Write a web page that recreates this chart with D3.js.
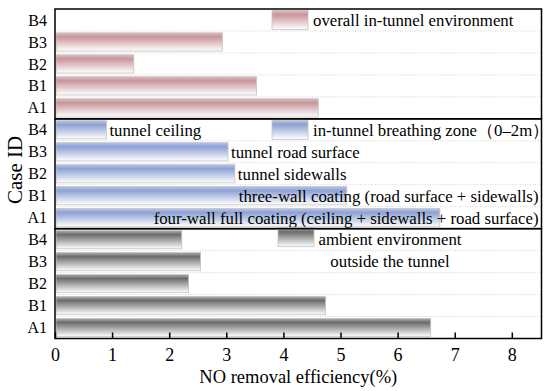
<!DOCTYPE html>
<html>
<head>
<meta charset="utf-8">
<script src="https://cdn.jsdelivr.net/npm/d3@7"></script>
<style>
  body { margin: 0; background: #fff; }
  text { font-family: "Liberation Serif", "Times New Roman", serif; fill: #000; }
</style>
</head>
<body>
<div id="chart"></div>
<script>
// rows from top to bottom inside each panel
var caseIds = ["B4", "B3", "B2", "B1", "A1"];
var panels = ["overall", "breathing", "ambient"];

// NO removal efficiency (%), per panel, in caseIds order (null = no bar)
var overallValues   = [null, 2.93, 1.38, 3.53, 4.61];
var breathingValues = [0.90, 3.03, 3.15, 5.11, 6.74];
var ambientValues   = [2.22, 2.55, 2.34, 4.74, 6.58];

var xTicks = [0, 1, 2, 3, 4, 5, 6, 7, 8];

// annotations in the middle panel, keyed by row
var breathingNotes = [
    { id: "B4", text: "tunnel ceiling" },
    { id: "B3", text: "tunnel road surface" },
    { id: "B2", text: "tunnel sidewalls" },
    { id: "B1", text: "three-wall coating (road surface + sidewalls)" },
    { id: "A1", text: "four-wall full coating (ceiling + sidewalls + road surface)" }
];
var legendLabels = {
    overall: ["overall in-tunnel environment"],
    breathing: ["in-tunnel breathing zone\uFF080\u20132m\uFF09"],
    ambient: ["ambient environment", "outside the tunnel"]
};

var width = 550, height = 391;
var margin = { left: 55, right: 8.5, top: 9, bottom: 52.5 };
var noteSize = "16.8px";

var svg = d3.select("#chart").append("svg")
    .attr("width", width)
    .attr("height", height);

var defs = svg.append("defs");
var colors = {
    overall:   ["#dcbcbf", "#c9959b"],
    breathing: ["#b8c5e6", "#8da1d3"],
    ambient:   ["#b0b0b0", "#6c6c6c"]
};
panels.forEach(function (p) {
    var g = defs.append("linearGradient")
        .attr("id", "grad-" + p)
        .attr("x1", 0).attr("y1", 0).attr("x2", 0).attr("y2", 1);
    g.append("stop").attr("offset", "0%").attr("stop-color", colors[p][0]);
    g.append("stop").attr("offset", "22%").attr("stop-color", colors[p][1]);
    g.append("stop").attr("offset", "100%").attr("stop-color", "#ffffff");
});

var x = d3.scaleLinear()
    .domain([0, 8.52])
    .range([margin.left, width - margin.right]);

var panelScale = d3.scaleBand()
    .domain(panels)
    .range([margin.top, height - margin.bottom]);

var y = d3.scaleBand()
    .domain(caseIds)
    .range([0, panelScale.bandwidth()])
    .paddingInner(0.17)
    .paddingOuter(0.085);

var valuesByPanel = {
    overall: overallValues,
    breathing: breathingValues,
    ambient: ambientValues
};

panels.forEach(function (p) {
    var top = panelScale(p);
    var g = svg.append("g")
        .attr("transform", "translate(0," + top + ")");

    // dotted separators between rows
    var step = panelScale.bandwidth() / caseIds.length;
    g.selectAll("line.grid")
        .data(caseIds.slice(1))
        .enter().append("line")
        .attr("class", "grid")
        .attr("x1", x.range()[0]).attr("x2", x.range()[1])
        .attr("y1", function (d, i) { return step * (i + 1); })
        .attr("y2", function (d, i) { return step * (i + 1); })
        .attr("stroke", "#c8c8c8")
        .attr("stroke-width", 0.8)
        .attr("stroke-dasharray", "1,1.5");

    var rows = caseIds.map(function (id, i) {
        return { id: id, value: valuesByPanel[p][i] };
    }).filter(function (d) { return d.value !== null; });

    g.selectAll("rect.bar")
        .data(rows)
        .enter().append("rect")
        .attr("class", "bar")
        .attr("x", x(0) + 1)
        .attr("y", function (d) { return y(d.id); })
        .attr("width", function (d) { return x(d.value) - x(0) - 1; })
        .attr("height", y.bandwidth())
        .attr("fill", "url(#grad-" + p + ")")
        .attr("stroke", "#c4c4c4")
        .attr("stroke-width", 0.8);

    // category labels
    g.selectAll("text.cat")
        .data(caseIds)
        .enter().append("text")
        .attr("class", "cat")
        .attr("x", x(0) - 8)
        .attr("y", function (d) { return y(d) + y.bandwidth() / 2; })
        .attr("dy", "0.35em")
        .attr("text-anchor", "end")
        .style("font-size", "16px")
        .text(function (d) { return d; });

    // legend swatch + text
    var lx = p === "ambient" ? 278 : 272;
    var ly = p === "ambient" ? -1 : 1.5;
    g.append("rect")
        .attr("x", lx).attr("y", ly)
        .attr("width", 36).attr("height", 19)
        .attr("fill", "url(#grad-" + p + ")")
        .attr("stroke", "#c4c4c4")
        .attr("stroke-width", 0.8);

    var lines = legendLabels[p];
    if (lines.length === 1) {
        g.append("text")
            .attr("x", lx + 41)
            .attr("y", ly + 10)
            .attr("dy", "0.35em")
            .style("font-size", noteSize)
            .text(lines[0]);
    } else {
        g.selectAll("text.leg")
            .data(lines)
            .enter().append("text")
            .attr("class", "leg")
            .attr("x", 390)
            .attr("y", function (d, i) { return ly + 11 + i * 22; })
            .attr("dy", "0.35em")
            .attr("text-anchor", "middle")
            .style("font-size", noteSize)
            .text(function (d) { return d; });
    }

    if (p === "breathing") {
        g.selectAll("text.note")
            .data(breathingNotes)
            .enter().append("text")
            .attr("class", "note")
            .attr("x", function (d) {
                var v = breathingValues[caseIds.indexOf(d.id)];
                return v < 4 ? x(v) + 3 : x.range()[1] - 3;
            })
            .attr("y", function (d) { return y(d.id) + y.bandwidth() / 2; })
            .attr("dy", "0.35em")
            .attr("text-anchor", function (d) {
                return breathingValues[caseIds.indexOf(d.id)] < 4 ? "start" : "end";
            })
            .style("font-size", noteSize)
            .text(function (d) { return d.text; });
    }

    // panel frame
    g.append("rect")
        .attr("x", x.range()[0])
        .attr("y", 0)
        .attr("width", x.range()[1] - x.range()[0])
        .attr("height", panelScale.bandwidth())
        .attr("fill", "none")
        .attr("stroke", "#000")
        .attr("stroke-width", 1.5);
});

// bottom axis, ticks pointing inward
var axisY = height - margin.bottom;
var axis = svg.append("g")
    .attr("transform", "translate(0," + axisY + ")")
    .call(d3.axisBottom(x).tickValues(xTicks).tickSizeInner(-6).tickSizeOuter(0).tickPadding(10));
axis.select(".domain").remove();
axis.selectAll(".tick line").attr("stroke", "#000").attr("stroke-width", 1.5);
axis.selectAll(".tick text")
    .style("font-family", "Liberation Serif, Times New Roman, serif")
    .style("font-size", "18px")
    .attr("fill", "#000");

svg.append("text")
    .attr("x", (x.range()[0] + x.range()[1]) / 2)
    .attr("y", 383)
    .attr("text-anchor", "middle")
    .style("font-size", "18.5px")
    .text("NO removal efficiency(%)");

svg.append("text")
    .attr("transform", "translate(22," + 170 + ") rotate(-90)")
    .attr("text-anchor", "middle")
    .style("font-size", "21px")
    .text("Case ID");
</script>
</body>
</html>
